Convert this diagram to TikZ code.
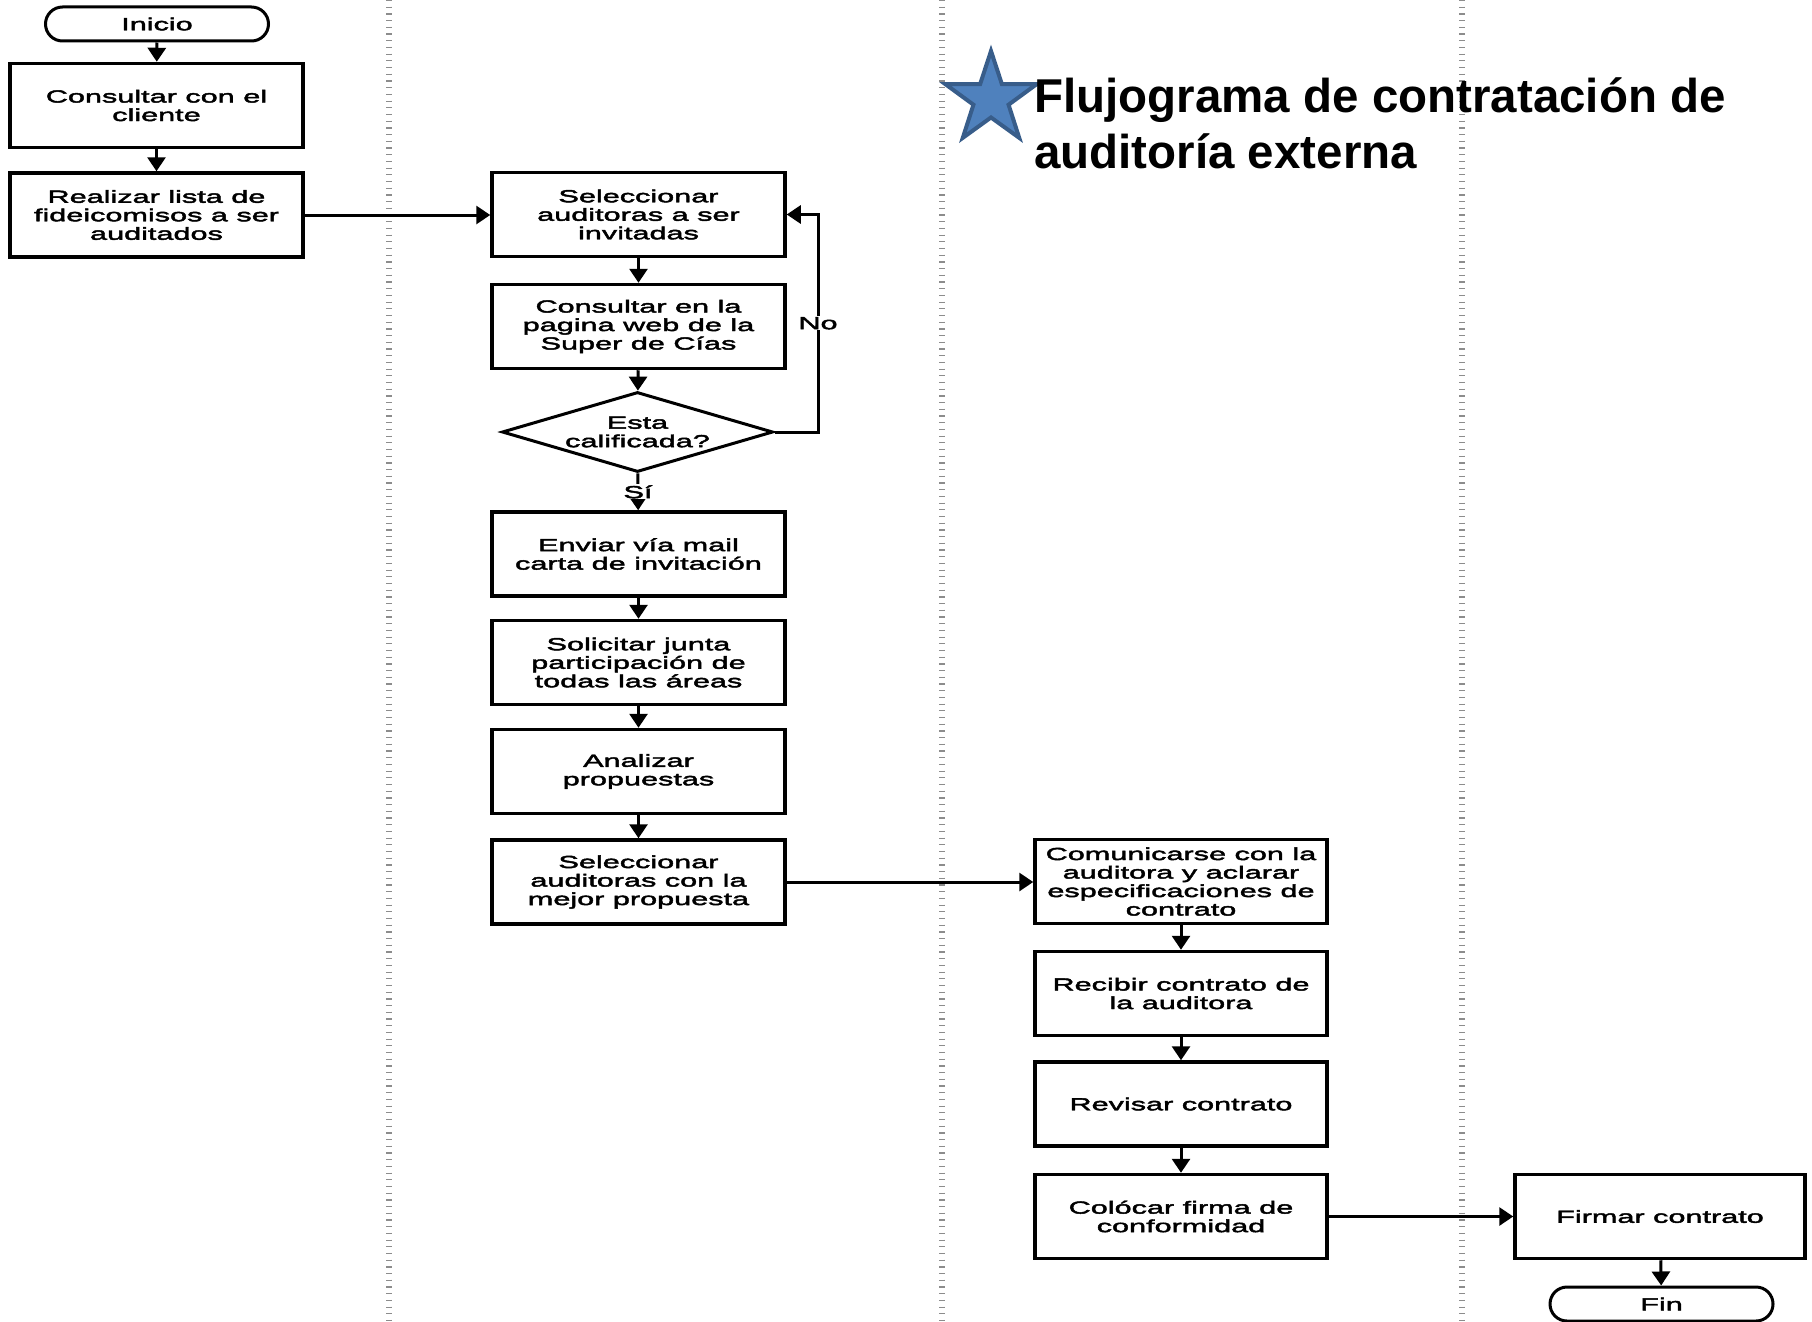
\documentclass[tikz,border=0pt]{standalone}
\usepackage{fontspec}
\setmainfont{Liberation Sans}
\newfontfamily\boxfont[FakeStretch=1.75,FakeBold=2.5]{Liberation Sans}
\usetikzlibrary{arrows.meta,shapes.geometric,shapes.misc}
\newcommand\boxtext{\boxfont\fontsize{17.5}{18.5}\selectfont}
\newcommand\headtext{\bfseries\fontsize{47.5}{56}\selectfont}
\definecolor{starfill}{HTML}{4F81BD}
\definecolor{starline}{HTML}{385D8A}
\begin{document}
\begin{tikzpicture}[x=1pt,y=-1pt,
  proc/.style={draw, line width=3.5pt, fill=white, minimum width=293pt,
    minimum height=84pt, inner sep=0pt, align=center, font=\boxtext},
  term/.style={draw, line width=3pt, rounded rectangle, fill=white,
    minimum width=223pt, minimum height=34pt, inner sep=0pt, font=\boxtext},
  decision/.style={draw, diamond, line width=3pt, fill=white,
    minimum width=271pt, minimum height=80pt, inner sep=0pt, aspect=3.4},
  flow/.style={line width=3pt, -{Triangle[width=18pt,length=14pt]}},
  lbl/.style={fill=white, font=\boxtext, inner sep=1pt},
  lane/.style={black!45, line width=6pt, dash pattern=on 1.2pt off 5.5pt}]
\useasboundingbox (0,0) rectangle (1812,1322);
\fill[white] (0,0) rectangle (1812,1322);

% swimlane separators
\draw[lane] (389,0) -- (389,1322);
\draw[lane] (942,0) -- (942,1322);
\draw[lane] (1462,0) -- (1462,1322);

% heading
\node[star, star points=5, star point ratio=2.6, minimum size=96pt, inner sep=0pt,
  fill=starfill, draw=starline, line width=4pt] (mark) at (991,99) {};
\node[anchor=base west, inner sep=0pt, align=left, font=\headtext] (head) at (1034,168)
  {Flujograma de contratación de\\auditoría externa};

% first lane
\node[term] (ini) at (157,24) {Inicio};
\node[proc] (c1) at (156.5,105.5) {Consultar con el\\cliente};
\node[proc] (c2) at (156.5,215) {Realizar lista de\\fideicomisos a ser\\auditados};

% second lane
\node[proc] (m1) at (638.5,214.5) {Seleccionar\\auditoras a ser\\invitadas};
\node[proc] (m2) at (638.5,326.5) {Consultar en la\\pagina web de la\\Super de Cías};
\node[decision] (q) at (637.5,432) {};
\node[font=\boxtext, align=center, inner sep=0pt] (qt) at (q) {Esta\\calificada?};
\node[proc] (m3) at (638.5,554) {Enviar vía mail\\carta de invitación};
\node[proc] (m4) at (638.5,662.5) {Solicitar junta\\participación de\\todas las áreas};
\node[proc] (m5) at (638.5,771.5) {Analizar\\propuestas};
\node[proc] (m6) at (638.5,882) {Seleccionar\\auditoras con la\\mejor propuesta};

% third lane
\node[proc, minimum width=292pt] (r1) at (1181,881.5) {Comunicarse con la\\auditora y aclarar\\especificaciones de\\contrato};
\node[proc, minimum width=292pt] (r2) at (1181,993.5) {Recibir contrato de\\la auditora};
\node[proc, minimum width=292pt] (r3) at (1181,1104) {Revisar contrato};
\node[proc, minimum width=292pt] (r4) at (1181,1216.5) {Colócar firma de\\conformidad};

% fourth lane
\node[proc, minimum width=290pt] (f1) at (1660,1216.5) {Firmar contrato};
\node[term] (fin) at (1661.5,1304) {Fin};

% connectors
\draw[flow] (ini) -- (c1);
\draw[flow] (c1) -- (c2);
\draw[flow] (c2.east) -- (c2.east -| m1.west);
\draw[flow] (m1) -- (m2);
\draw[flow] (m2) -- (q);
\draw[flow] (q) -- node[lbl] {Sí} (m3);
\coordinate (loop) at (818,432);
\draw[flow] (q.east) -- (loop) |- node[lbl, pos=0.25] {No} (m1.east);
\draw[flow] (m3) -- (m4);
\draw[flow] (m4) -- (m5);
\draw[flow] (m5) -- (m6);
\draw[flow] (m6.east) -- (m6.east -| r1.west);
\draw[flow] (r1) -- (r2);
\draw[flow] (r2) -- (r3);
\draw[flow] (r3) -- (r4);
\draw[flow] (r4.east) -- (r4.east -| f1.west);
\draw[flow] (f1) -- (fin);
\end{tikzpicture}
\end{document}
